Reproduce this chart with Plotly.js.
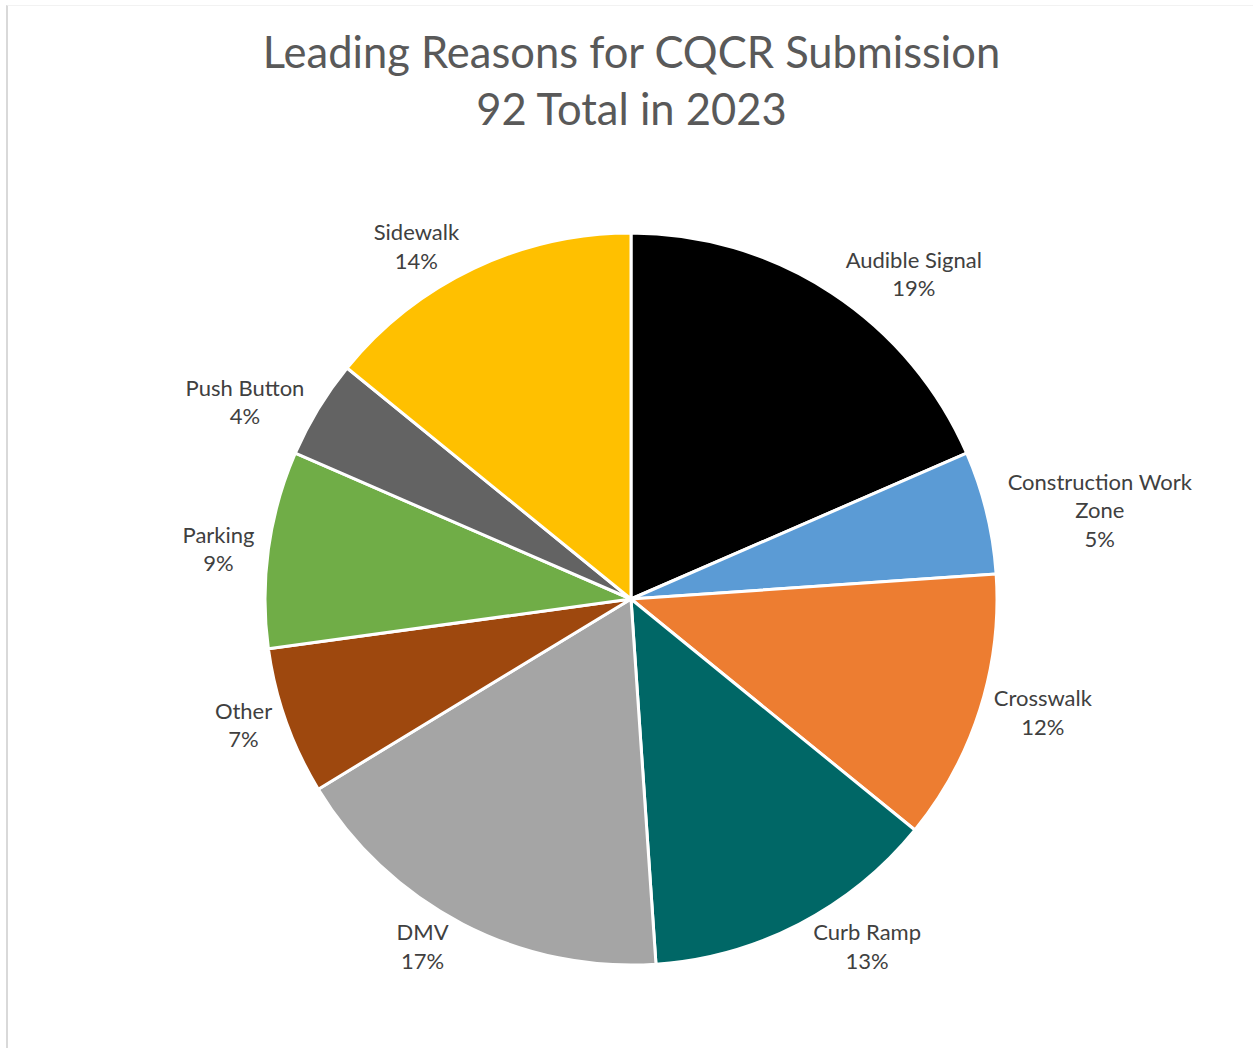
<!DOCTYPE html>
<html>
<head>
<meta charset="utf-8">
<script src="https://cdn.plot.ly/plotly-3.0.1.min.js"></script>
<style>
  html, body { margin: 0; padding: 0; background: #ffffff; }
  #chart { width: 1253px; height: 1048px; position: absolute; left: 0; top: 0; }
  #frame { position: absolute; left: 6px; top: 5px; width: 1247px; height: 1043px;
           border-left: 2px solid #d9d9d9; border-top: 1px solid #f2f2f2;
           box-sizing: border-box; pointer-events: none; z-index: 5; }
</style>
</head>
<body>
<div id="chart"></div>
<div id="frame"></div>
<script>
// Categories, counts (out of 92) and the percentage labels shown on the chart
const categories = ["Audible Signal", "Construction Work Zone", "Crosswalk", "Curb Ramp",
                    "DMV", "Other", "Parking", "Push Button", "Sidewalk"];
const displayNames = ["Audible Signal", "Construction Work<br>Zone", "Crosswalk", "Curb Ramp",
                      "DMV", "Other", "Parking", "Push Button", "Sidewalk"];
const counts = [17, 5, 11, 12, 16, 6, 8, 4, 13];
const pctLabels = ["19%", "5%", "12%", "13%", "17%", "7%", "9%", "4%", "14%"];
const sliceColors = ["#000000", "#5b9bd5", "#ed7d31", "#006766", "#a5a5a5",
                     "#9e480e", "#70ad47", "#636363", "#ffc000"];

const textLabels = displayNames.map((n, i) => n + "<br>" + pctLabels[i]);

const trace = {
  type: "pie",
  labels: categories,
  values: counts,
  text: textLabels,
  texttemplate: "%{text}",
  textinfo: "text",
  textposition: "outside",
  sort: false,
  direction: "clockwise",
  rotation: 0,
  hole: 0,
  marker: { colors: sliceColors, line: { color: "#ffffff", width: 3 } },
  outsidetextfont: { family: "Lato, 'Open Sans', sans-serif", size: 22, color: "#404040" },
  showlegend: false,
  automargin: false
};

const layout = {
  width: 1253,
  height: 1048,
  margin: { l: 265, r: 256, t: 233, b: 83 },
  paper_bgcolor: "rgba(0,0,0,0)",
  plot_bgcolor: "rgba(0,0,0,0)",
  showlegend: false,
  title: {
    text: "Leading Reasons for CQCR Submission<br>92 Total in 2023",
    font: { family: "Lato, 'Open Sans', sans-serif", size: 43.5, color: "#595959" },
    x: 0.504,
    xanchor: "center",
    y: 0.935,
    yanchor: "top"
  }
};

Plotly.newPlot("chart", [trace], layout, { displayModeBar: false, staticPlot: true });
</script>
</body>
</html>
